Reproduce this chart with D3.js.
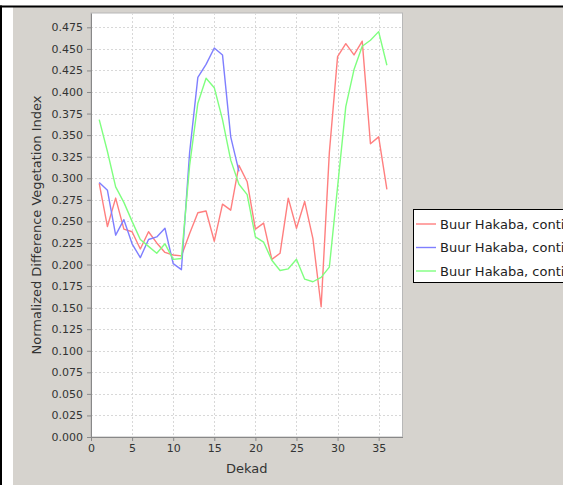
<!DOCTYPE html>
<html>
<head>
<meta charset="utf-8">
<script src="https://cdn.jsdelivr.net/npm/d3@7/dist/d3.min.js"></script>
<style>
  html, body { margin: 0; padding: 0; background: #fff; overflow: hidden; }
  svg { display: block; }
  text { font-family: "DejaVu Sans", sans-serif; }
</style>
</head>
<body>
<svg id="chart" width="563" height="485"></svg>
<script>
// ---- data ----
const dekads = d3.range(1, 37);
const seriesNames = ["Buur Hakaba, conti", "Buur Hakaba, conti", "Buur Hakaba, conti"];
const redValues = [0.294, 0.244, 0.277, 0.241, 0.238, 0.218, 0.238, 0.225, 0.214, 0.211, 0.210, 0.236,
  0.260, 0.262, 0.227, 0.270, 0.263, 0.315, 0.296, 0.241, 0.248, 0.206, 0.213, 0.277, 0.242, 0.273,
  0.230, 0.151, 0.330, 0.441, 0.456, 0.443, 0.459, 0.340, 0.348, 0.287];
const blueValues = [0.295, 0.286, 0.234, 0.252, 0.224, 0.208, 0.229, 0.232, 0.242, 0.201, 0.194, 0.330,
  0.417, 0.432, 0.451, 0.443, 0.348, 0.308];
const greenValues = [0.368, 0.331, 0.290, 0.272, 0.250, 0.229, 0.221, 0.213, 0.224, 0.206, 0.207, 0.315,
  0.387, 0.416, 0.405, 0.368, 0.321, 0.293, 0.281, 0.232, 0.226, 0.205, 0.193, 0.195, 0.206, 0.183,
  0.180, 0.185, 0.197, 0.290, 0.383, 0.426, 0.453, 0.460, 0.470, 0.431];
const xTicks = [0, 5, 10, 15, 20, 25, 30, 35];
const yTicks = d3.range(0, 20).map(i => +(i * 0.025).toFixed(3));
const seriesColors = ["#ff7f7f", "#7f7fff", "#7fff7f"];

// ---- layout ----
const W = 563, H = 485;
const plot = { left: 91, right: 402.5, top: 13, bottom: 437 };
const xMax = 37.9, yMax = 0.4916;

const svg = d3.select("#chart");

// page frame
svg.append("rect").attr("x", 0).attr("y", 0).attr("width", W).attr("height", H).attr("fill", "#ffffff");
svg.append("rect").attr("x", 13).attr("y", 7).attr("width", W - 13).attr("height", H - 7).attr("fill", "#d6d3ce");
svg.append("rect").attr("x", 0).attr("y", 5.5).attr("width", W).attr("height", 2).attr("fill", "#000");
svg.append("rect").attr("x", 0).attr("y", 5.5).attr("width", 2).attr("height", H).attr("fill", "#000");

const x = d3.scaleLinear().domain([0, xMax]).range([plot.left, plot.right]);
const y = d3.scaleLinear().domain([0, yMax]).range([plot.bottom, plot.top]);

// plot background
svg.append("rect")
  .attr("x", plot.left).attr("y", plot.top)
  .attr("width", plot.right - plot.left).attr("height", plot.bottom - plot.top)
  .attr("fill", "#ffffff").attr("stroke", "#b8b8b8").attr("stroke-width", 1);

// gridlines
const grid = svg.append("g").attr("stroke", "#d8d8d8").attr("stroke-width", 1).attr("stroke-dasharray", "2,2");
yTicks.filter(v => v > 0).forEach(v => {
  grid.append("line").attr("x1", plot.left).attr("x2", plot.right)
    .attr("y1", Math.round(y(v)) + 0.5).attr("y2", Math.round(y(v)) + 0.5);
});
xTicks.filter(v => v > 0).forEach(v => {
  grid.append("line").attr("y1", plot.top).attr("y2", plot.bottom)
    .attr("x1", Math.round(x(v)) + 0.5).attr("x2", Math.round(x(v)) + 0.5);
});

// axes
const yAxis = d3.axisLeft(y).tickValues(yTicks).tickFormat(d3.format(".3f")).tickSize(4).tickSizeOuter(0).tickPadding(4);
const xAxis = d3.axisBottom(x).tickValues(xTicks).tickFormat(d3.format("d")).tickSize(4).tickSizeOuter(0).tickPadding(3);

const gy = svg.append("g").attr("transform", `translate(${plot.left},0)`).call(yAxis);
const gx = svg.append("g").attr("transform", `translate(0,${plot.bottom})`).call(xAxis);
[gx, gy].forEach(g => {
  g.select(".domain").attr("stroke", "#888");
  g.selectAll(".tick line").attr("stroke", "#888");
  g.selectAll(".tick text").attr("fill", "#333").attr("font-size", 11).attr("font-family", "DejaVu Sans, sans-serif");
});

// axis labels
svg.append("text")
  .attr("x", (plot.left + plot.right) / 2).attr("y", 473)
  .attr("text-anchor", "middle").attr("font-size", 13).attr("fill", "#333")
  .text("Dekad");
svg.append("text")
  .attr("transform", `translate(41,${(plot.top + plot.bottom) / 2}) rotate(-90)`)
  .attr("text-anchor", "middle").attr("font-size", 13).attr("fill", "#333")
  .text("Normalized Difference Vegetation Index");

// lines
const line = d3.line().x(d => x(d[0])).y(d => y(d[1]));
const allSeries = [redValues, blueValues, greenValues];
allSeries.forEach((vals, i) => {
  svg.append("path")
    .datum(vals.map((v, j) => [dekads[j], v]))
    .attr("fill", "none").attr("stroke", seriesColors[i]).attr("stroke-width", 1.4)
    .attr("stroke-linejoin", "round")
    .attr("d", line);
});

// legend
const lg = svg.append("g");
lg.append("rect").attr("x", 413.5).attr("y", 209.5).attr("width", 200).attr("height", 73)
  .attr("fill", "#ffffff").attr("stroke", "#000").attr("stroke-width", 1);
seriesNames.forEach((name, i) => {
  const cy = 224 + i * 23.5;
  lg.append("line").attr("x1", 416).attr("x2", 436).attr("y1", cy).attr("y2", cy)
    .attr("stroke", seriesColors[i]).attr("stroke-width", 1.4);
  lg.append("text").attr("x", 440).attr("y", cy + 4.5).attr("font-size", 13).attr("fill", "#222").text(name);
});
</script>
</body>
</html>
